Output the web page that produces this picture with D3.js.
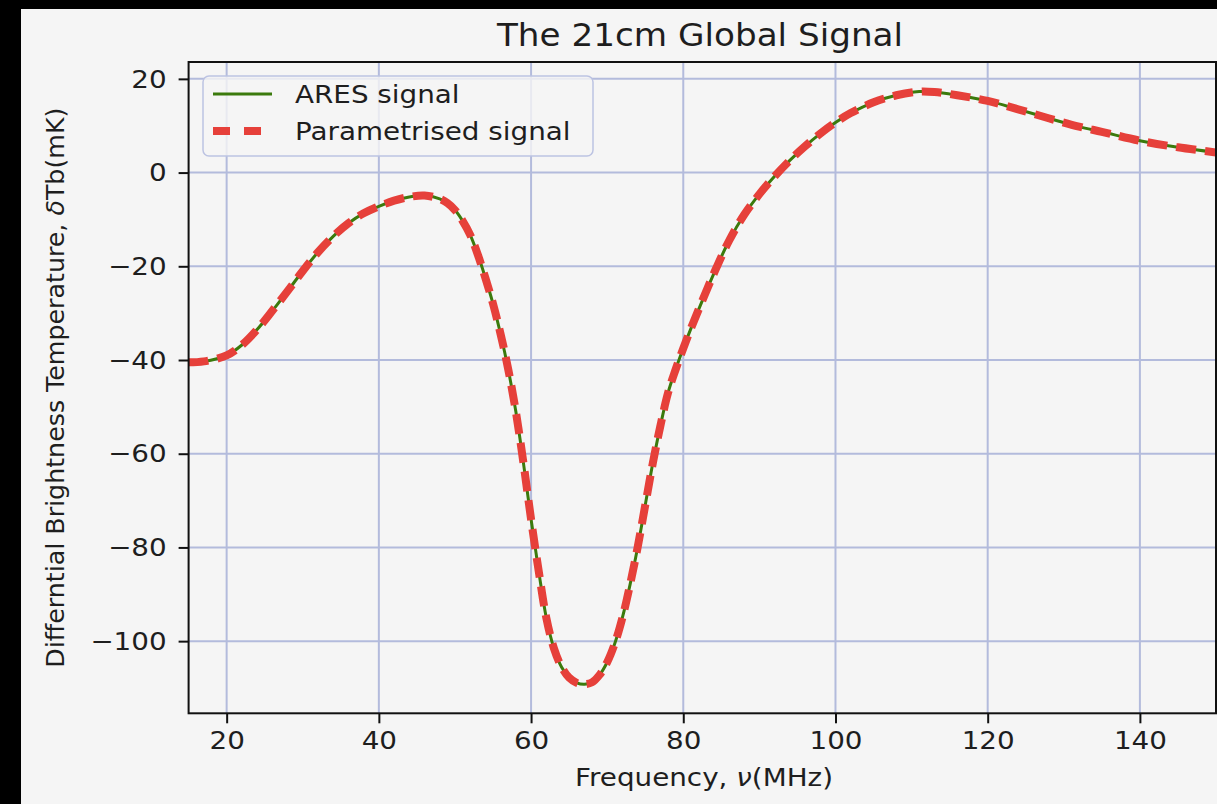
<!DOCTYPE html>
<html>
<head>
<meta charset="utf-8">
<script src="https://cdn.jsdelivr.net/npm/d3@7"></script>
<style>
  html, body { margin: 0; padding: 0; background: #000; }
  svg { display: block; }
  text { font-family: "DejaVu Sans", sans-serif; fill: #1e1e1e; }
</style>
</head>
<body>
<svg id="chart" width="1217" height="804"></svg>
<script>
// Frequency samples (MHz) and the 21cm global signal (mK)
const freq = [15, 17, 20, 22, 24, 26, 28, 30, 32, 34, 36, 38, 40, 42, 44, 46, 48, 49, 50, 51, 52, 53, 54, 55, 56, 57, 58, 59, 60, 61, 62, 63, 64, 65, 66, 67, 68, 69, 70, 71, 72, 73, 74, 75, 76, 77, 78, 79, 80, 81, 82, 84, 86, 88, 90, 92, 94, 96, 98, 100, 102, 105, 108, 111, 113, 116, 120, 124, 128, 132, 135, 140, 145, 150];
const aresSignal = [-40.5, -40.3, -39.0, -36.8, -33.5, -29.5, -25.3, -21.0, -17.0, -13.6, -10.8, -8.7, -7.2, -6.0, -5.2, -4.9, -5.6, -6.5, -8.0, -10.3, -13.3, -17.5, -22.5, -28.0, -34.5, -42.0, -51.0, -62.0, -74.0, -85.0, -95.0, -101.5, -105.5, -107.8, -108.9, -109.2, -108.8, -107.2, -104.5, -100.5, -95.0, -88.0, -80.0, -71.0, -62.0, -54.0, -47.0, -42.0, -37.5, -33.3, -29.3, -21.6, -14.6, -9.0, -4.6, -0.8, 2.6, 5.6, 8.3, 10.7, 12.7, 15.0, 16.5, 17.3, 17.2, 16.5, 15.3, 13.5, 11.6, 9.8, 8.7, 6.8, 5.4, 4.3];
// The parametrised fit coincides with the simulated signal
const paramSignal = aresSignal.slice();

const xTicks = [20, 40, 60, 80, 100, 120, 140];
const yTicks = [-100, -80, -60, -40, -20, 0, 20];

const svg = d3.select("#chart");
const W = 1217, H = 804;
const stretch = 1.09; // horizontal widening applied to horizontal text

// figure background (dark frame on the top and left)
svg.append("rect").attr("x", 0).attr("y", 0).attr("width", W).attr("height", H).attr("fill", "#000");
svg.append("rect").attr("x", 21).attr("y", 9).attr("width", W - 21).attr("height", H - 9).attr("fill", "#f5f5f5");

const plot = { left: 188.6, right: 1216, top: 62, bottom: 713.3 };

const x = d3.scaleLinear().domain([15, 150]).range([plot.left, plot.right]);
const y = d3.scaleLinear().domain([-115.4, 23.6]).range([plot.bottom, plot.top]);

svg.append("defs").append("clipPath").attr("id", "plotClip")
  .append("rect")
  .attr("x", plot.left).attr("y", plot.top)
  .attr("width", plot.right - plot.left).attr("height", plot.bottom - plot.top);

// grid
const grid = svg.append("g").attr("stroke", "#b3bbdc").attr("stroke-width", 2);
grid.selectAll(".gx").data(xTicks).join("line")
  .attr("x1", d => x(d)).attr("x2", d => x(d))
  .attr("y1", plot.top).attr("y2", plot.bottom);
grid.selectAll(".gy").data(yTicks).join("line")
  .attr("x1", plot.left).attr("x2", plot.right)
  .attr("y1", d => y(d)).attr("y2", d => y(d));

// curves
const pts = (vals) => freq.map((f, i) => [f, vals[i]]);
const line = d3.line().x(d => x(d[0])).y(d => y(d[1])).curve(d3.curveCatmullRom.alpha(0.5));

const curves = svg.append("g").attr("clip-path", "url(#plotClip)");
curves.append("path")
  .attr("d", line(pts(aresSignal)))
  .attr("fill", "none").attr("stroke", "#3b7a0c").attr("stroke-width", 3);
curves.append("path")
  .attr("d", line(pts(paramSignal)))
  .attr("fill", "none").attr("stroke", "#e6403a").attr("stroke-width", 8)
  .attr("stroke-dasharray", "20,9");

// axes
const xAxis = d3.axisBottom(x).tickValues(xTicks).tickSize(10).tickPadding(8).tickFormat(d3.format("d"));
const yAxis = d3.axisLeft(y).tickValues(yTicks).tickSize(10).tickPadding(12)
  .tickFormat(d => d < 0 ? "\u2212" + Math.abs(d) : String(d));

const gx = svg.append("g").attr("transform", `translate(0,${plot.bottom})`).call(xAxis);
const gy = svg.append("g").attr("transform", `translate(${plot.left},0)`).call(yAxis);
[gx, gy].forEach(g => {
  g.select(".domain").remove();
  g.selectAll(".tick line").attr("stroke", "#111").attr("stroke-width", 2);
  g.selectAll(".tick text").attr("font-size", 25.5).attr("fill", "#1e1e1e")
    .attr("font-family", "DejaVu Sans, sans-serif");
});
gx.selectAll(".tick text").attr("dy", "0.71em");

// spines
svg.append("rect")
  .attr("x", plot.left).attr("y", plot.top)
  .attr("width", plot.right - plot.left).attr("height", plot.bottom - plot.top)
  .attr("fill", "none").attr("stroke", "#111").attr("stroke-width", 2);

// title and labels
svg.append("text").attr("x", 700).attr("y", 46).attr("text-anchor", "middle")
  .attr("font-size", 31.4).text("The 21cm Global Signal");

const xl = svg.append("text").attr("x", 704).attr("y", 786).attr("text-anchor", "middle").attr("font-size", 25.5);
xl.append("tspan").text("Frequency, ");
xl.append("tspan").attr("font-style", "italic").text("\u03bd");
xl.append("tspan").text("(MHz)");

const yl = svg.append("text").attr("transform", `translate(64,${(plot.top + plot.bottom) / 2}) rotate(-90)`)
  .attr("text-anchor", "middle").attr("font-size", 25.3);
yl.append("tspan").text("Differntial Brightness Temperature, ");
yl.append("tspan").attr("font-style", "italic").text("\u03b4");
yl.append("tspan").text("Tb(mK)");

// legend
const legend = svg.append("g");
legend.append("rect").attr("x", 203).attr("y", 76).attr("width", 390).attr("height", 80).attr("rx", 6)
  .attr("fill", "#f5f5f5").attr("fill-opacity", 0.8).attr("stroke", "#bcc3e2").attr("stroke-width", 1.5);
const legendItems = [
  { label: "ARES signal", color: "#3b7a0c", width: 3, dash: null, yy: 94 },
  { label: "Parametrised signal", color: "#e6403a", width: 8, dash: "17,14", yy: 131 }
];
legendItems.forEach(it => {
  const l = legend.append("line").attr("x1", 213).attr("x2", 272).attr("y1", it.yy).attr("y2", it.yy)
    .attr("stroke", it.color).attr("stroke-width", it.width);
  if (it.dash) l.attr("stroke-dasharray", it.dash);
  legend.append("text").attr("x", 295).attr("y", it.yy).attr("dy", "0.36em")
    .attr("font-size", 25.5).text(it.label);
});

// widen every horizontal text run
svg.selectAll("text").filter(function () { return !this.getAttribute("transform"); })
  .each(function () {
    const len = this.getComputedTextLength();
    this.setAttribute("textLength", len * stretch);
    this.setAttribute("lengthAdjust", "spacingAndGlyphs");
  });
</script>
</body>
</html>
